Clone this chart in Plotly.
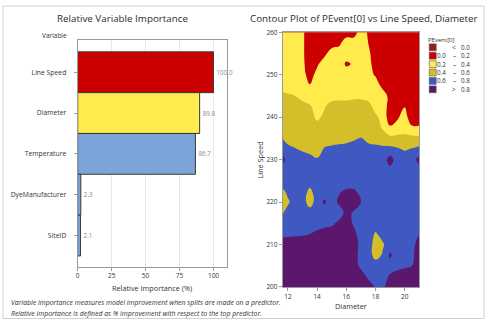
import plotly.graph_objects as go

# ---------------- data ----------------
variables = ["Line Speed", "Diameter", "Temperature", "DyeManufacturer", "SiteID"]
importance = [100.0, 89.8, 86.7, 2.3, 2.1]
importance_labels = ["100.0", "89.8", "86.7", "2.3", "2.1"]
bar_colors = ["#CC0000", "#FFEB4C", "#7BA4D9", "#7BA4D9", "#7BA4D9"]
importance_ticks = [0, 25, 50, 75, 100]

diameter = [11.5, 12.0, 12.5, 13.0, 13.5, 14.0, 14.5, 15.0, 15.5, 16.0,
            16.5, 17.0, 17.5, 18.0, 18.5, 19.0, 19.5, 20.0, 20.5, 21.0]
line_speed = [260, 257.5, 255, 252.5, 250, 247.5, 245, 242.5, 240, 237.5,
              235, 232.5, 230, 227.5, 225, 222.5, 220, 217.5, 215, 212.5,
              210, 207.5, 205, 202.5, 200]
# PEvent[0] estimated on the grid (rows follow line_speed, top to bottom)
pevent = [
    [0.3, 0.3, 0.3, 0.23, 0.1, 0.1, 0.1, 0.1, 0.1, 0.1, 0.1, 0.3, 0.18, 0.1, 0.1, 0.1, 0.1, 0.1, 0.1, 0.1],
    [0.3, 0.3, 0.3, 0.23, 0.1, 0.1, 0.1, 0.1, 0.15, 0.3, 0.3, 0.3, 0.2, 0.1, 0.1, 0.1, 0.1, 0.1, 0.1, 0.1],
    [0.3, 0.3, 0.3, 0.23, 0.1, 0.1, 0.15, 0.3, 0.3, 0.3, 0.3, 0.3, 0.24, 0.1, 0.1, 0.1, 0.1, 0.1, 0.1, 0.1],
    [0.3, 0.3, 0.3, 0.24, 0.1, 0.17, 0.3, 0.3, 0.3, 0.17, 0.22, 0.3, 0.28, 0.1, 0.1, 0.1, 0.1, 0.1, 0.1, 0.1],
    [0.3, 0.3, 0.3, 0.27, 0.12, 0.26, 0.3, 0.3, 0.3, 0.3, 0.3, 0.3, 0.3, 0.17, 0.1, 0.1, 0.1, 0.1, 0.1, 0.1],
    [0.32, 0.32, 0.31, 0.3, 0.21, 0.3, 0.3, 0.3, 0.3, 0.3, 0.3, 0.3, 0.3, 0.35, 0.1, 0.1, 0.1, 0.1, 0.1, 0.1],
    [0.45, 0.42, 0.4, 0.31, 0.3, 0.3, 0.3, 0.3, 0.32, 0.32, 0.35, 0.35, 0.3, 0.3, 0.35, 0.1, 0.1, 0.1, 0.1, 0.1],
    [0.5, 0.5, 0.5, 0.5, 0.42, 0.33, 0.38, 0.5, 0.5, 0.5, 0.5, 0.5, 0.5, 0.3, 0.3, 0.12, 0.12, 0.19, 0.1, 0.1],
    [0.5, 0.5, 0.5, 0.5, 0.5, 0.35, 0.45, 0.5, 0.5, 0.5, 0.5, 0.5, 0.5, 0.45, 0.32, 0.1, 0.17, 0.3, 0.05, 0.1],
    [0.5, 0.5, 0.5, 0.5, 0.5, 0.5, 0.5, 0.5, 0.5, 0.5, 0.5, 0.5, 0.5, 0.5, 0.375, 0.225, 0.28, 0.3, 0.24, 0.225],
    [0.63, 0.5, 0.5, 0.5, 0.5, 0.5, 0.5, 0.5, 0.5, 0.5, 0.57, 0.61, 0.5, 0.5, 0.5, 0.46, 0.46, 0.46, 0.46, 0.46],
    [0.7, 0.67, 0.61, 0.57, 0.5, 0.5, 0.62, 0.65, 0.68, 0.72, 0.7, 0.7, 0.72, 0.67, 0.64, 0.65, 0.62, 0.58, 0.61, 0.65],
    [0.95, 0.7, 0.7, 0.7, 0.7, 0.62, 0.7, 0.7, 0.7, 0.7, 0.7, 0.7, 0.7, 0.7, 0.7, 0.88, 0.7, 0.7, 0.7, 0.88],
    [0.7, 0.7, 0.7, 0.7, 0.7, 0.7, 0.7, 0.7, 0.7, 0.7, 0.7, 0.7, 0.7, 0.7, 0.7, 0.74, 0.7, 0.7, 0.7, 0.7],
    [0.7, 0.7, 0.7, 0.7, 0.7, 0.7, 0.7, 0.7, 0.7, 0.7, 0.7, 0.7, 0.7, 0.7, 0.7, 0.7, 0.7, 0.7, 0.7, 0.7],
    [0.52, 0.65, 0.7, 0.7, 0.55, 0.7, 0.7, 0.7, 0.78, 0.83, 0.83, 0.75, 0.7, 0.7, 0.7, 0.7, 0.7, 0.7, 0.7, 0.7],
    [0.45, 0.57, 0.7, 0.7, 0.5, 0.7, 0.83, 0.7, 0.84, 0.92, 0.9, 0.8, 0.7, 0.7, 0.7, 0.7, 0.7, 0.7, 0.7, 0.7],
    [0.55, 0.68, 0.7, 0.7, 0.7, 0.7, 0.7, 0.7, 0.7, 0.86, 0.78, 0.7, 0.7, 0.7, 0.7, 0.7, 0.7, 0.7, 0.7, 0.7],
    [0.7, 0.7, 0.7, 0.7, 0.7, 0.72, 0.75, 0.76, 0.85, 0.88, 0.78, 0.7, 0.7, 0.7, 0.7, 0.7, 0.7, 0.7, 0.7, 0.7],
    [0.75, 0.76, 0.77, 0.78, 0.8, 0.84, 0.87, 0.9, 0.9, 0.9, 0.85, 0.72, 0.7, 0.58, 0.66, 0.7, 0.7, 0.7, 0.7, 0.8],
    [0.9, 0.9, 0.9, 0.9, 0.9, 0.9, 0.9, 0.9, 0.9, 0.9, 0.9, 0.74, 0.7, 0.52, 0.58, 0.7, 0.7, 0.7, 0.74, 0.88],
    [0.9, 0.9, 0.9, 0.9, 0.9, 0.9, 0.9, 0.9, 0.9, 0.9, 0.9, 0.72, 0.7, 0.52, 0.62, 0.83, 0.7, 0.72, 0.76, 0.9],
    [0.9, 0.9, 0.9, 0.9, 0.9, 0.9, 0.9, 0.9, 0.9, 0.9, 0.9, 0.75, 0.7, 0.7, 0.7, 0.72, 0.74, 0.77, 0.8, 0.9],
    [0.9, 0.9, 0.9, 0.9, 0.9, 0.9, 0.9, 0.9, 0.9, 0.9, 0.9, 0.9, 0.76, 0.7, 0.74, 0.82, 0.88, 0.9, 0.9, 0.9],
    [0.9, 0.9, 0.9, 0.9, 0.9, 0.9, 0.9, 0.9, 0.9, 0.9, 0.9, 0.9, 0.9, 0.79, 0.76, 0.9, 0.9, 0.9, 0.9, 0.9],
]
diameter_ticks = [12, 14, 16, 18, 20]
speed_ticks = [200, 210, 220, 230, 240, 250, 260]

legend_labels = [("", "<", "0.0"), ("0.0", "\u2013", "0.2"), ("0.2", "\u2013", "0.4"),
                 ("0.4", "\u2013", "0.6"), ("0.6", "\u2013", "0.8"), ("", ">", "0.8")]
band_colors = ["#9B1B1B", "#CC0000", "#FFEB4C", "#D4BE2A", "#3F58C2", "#5A176C"]

footnotes = ["Variable importance measures model improvement when splits are made on a predictor.",
             "Relative importance is defined as % improvement with respect to the top predictor."]

# ---------------- figure ----------------
W, H = 485, 324
FONT = "Open Sans"
TXT = "#333333"


def fx(p):
    return p / W


def fy(p):
    return 1 - p / H


fig = go.Figure()

fig.add_trace(go.Bar(
    orientation="h", y=variables, x=importance, width=1.0,
    marker=dict(color=bar_colors, line=dict(color="#3a3a3a", width=1)),
    text=importance_labels, textposition="outside",
    textfont=dict(size=6.3, color="#8a8a8a", family=FONT),
    cliponaxis=False, xaxis="x", yaxis="y", showlegend=False, hoverinfo="skip"))

cs = []
for i, c in enumerate(band_colors):
    lo = 0 if i == 0 else (i - 0.5) / 5
    hi = 1 if i == 5 else (i + 0.5) / 5
    cs.append([lo, c])
    cs.append([hi, c])

fig.add_trace(go.Contour(
    x=diameter, y=line_speed[::-1], z=pevent[::-1],
    autocontour=False,
    contours=dict(start=0.0, end=0.8, size=0.2, coloring="fill", showlines=False),
    line=dict(width=0, smoothing=1.3),
    colorscale=cs, showscale=False, xaxis="x2", yaxis="y2", hoverinfo="skip"))

axis_common = dict(showline=True, mirror=True, linecolor="#9a9a9a", linewidth=1,
                   ticks="outside", ticklen=3, tickcolor="#9a9a9a",
                   tickfont=dict(size=6.5, color=TXT, family=FONT), zeroline=False)

fig.update_layout(
    width=W, height=H, margin=dict(l=0, r=0, t=0, b=0),
    paper_bgcolor="white", plot_bgcolor="white",
    font=dict(family=FONT, color=TXT),
    xaxis=dict(domain=[fx(76), fx(226)], range=[0, 110], tickvals=importance_ticks,
               showgrid=True, gridcolor="#e8e8e8", anchor="y", **axis_common),
    yaxis=dict(domain=[fy(269), fy(36)], range=[4.76, -0.79], type="category",
               showgrid=False, anchor="x", ticklabelstandoff=6,
               **{k: v for k, v in axis_common.items() if k != "tickfont"},
               tickfont=dict(size=6.8, color=TXT, family=FONT)),
    xaxis2=dict(domain=[fx(282), fx(419)], range=[11.65, 21.0], tickvals=diameter_ticks,
                showgrid=False, anchor="y2", **axis_common),
    yaxis2=dict(domain=[fy(290), fy(28)], range=[200, 260], tickvals=speed_ticks,
                showgrid=False, anchor="x2", **axis_common),
    showlegend=False,
)

ann = []


def add_text(text, x, y, size, color=TXT, xanchor="center", angle=0):
    ann.append(dict(text=text, x=fx(x), y=fy(y), xref="paper", yref="paper",
                    xanchor=xanchor, yanchor="middle", showarrow=False, textangle=angle,
                    font=dict(size=size, color=color, family=FONT)))


add_text("Relative Variable Importance", 121, 14, 9.8, "#2b2b2b")
add_text("Contour Plot of PEvent[0] vs Line Speed, Diameter", 363, 14, 9.8, "#2b2b2b")
add_text("Variable", 53, 31, 6.5)
add_text("Relative Importance (%)", 151, 291, 7.3)
add_text("Diameter", 350, 310, 7.3)
add_text("Line Speed", 259, 159, 7.3, angle=-90)
add_text("PEvent[0]", 441, 36, 6.0)
for i, line in enumerate(footnotes):
    add_text("<i>" + line + "</i>", 7, 306 + i * 11, 6.9, xanchor="left")

shapes = []
for i, (lo, sym, hi) in enumerate(legend_labels):
    yc = 43.5 + i * 8.65
    shapes.append(dict(type="rect", xref="paper", yref="paper",
                       x0=fx(429), x1=fx(436), y0=fy(yc + 3.5), y1=fy(yc - 3.5),
                       fillcolor=band_colors[i], line=dict(color="#555555", width=0.6)))
    if lo:
        add_text(lo, 448, yc, 6.3, xanchor="right")
    add_text(sym, 454, yc, 6.3)
    add_text(hi, 472, yc, 6.3, xanchor="right")

# outer frame
shapes.append(dict(type="rect", xref="paper", yref="paper",
                   x0=fx(1), x1=fx(484), y0=fy(322.5), y1=fy(1),
                   line=dict(color="#d0d0d0", width=1), fillcolor="rgba(0,0,0,0)"))

fig.update_layout(annotations=ann, shapes=shapes)
fig.write_html("out.html")
